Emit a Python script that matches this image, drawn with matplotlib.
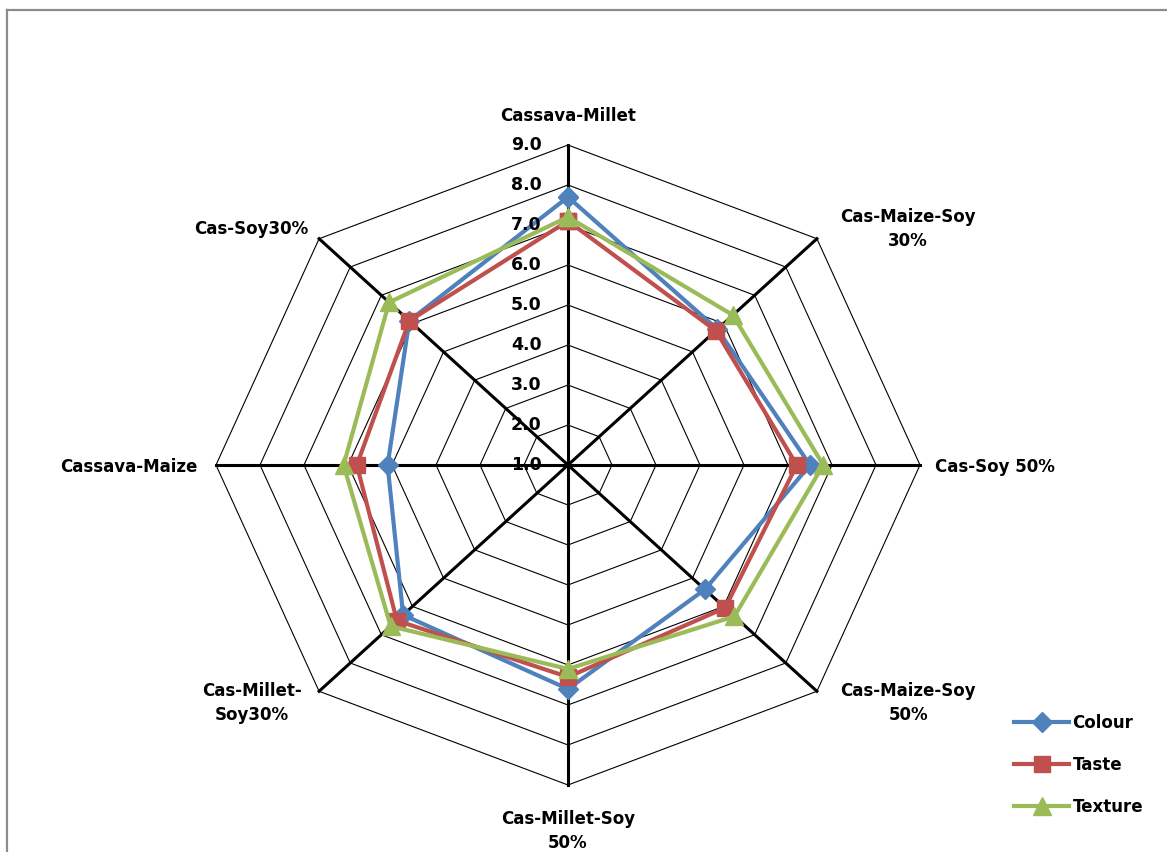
import matplotlib.pyplot as plt
import numpy as np
from matplotlib.lines import Line2D

# sensory scores per blend, spokes clockwise from the top
categories = ["Cassava-Millet", "Cas-Maize-Soy\n30%", "Cas-Soy 50%", "Cas-Maize-Soy\n50%",
              "Cas-Millet-Soy\n50%", "Cas-Millet-\nSoy30%", "Cassava-Maize", "Cas-Soy30%"]
colour = [7.7, 5.8, 6.5, 5.4, 6.6, 6.3, 5.1, 6.1]
taste = [7.1, 5.75, 6.2, 6.05, 6.3, 6.5, 5.8, 6.1]
texture = [7.2, 6.3, 6.8, 6.35, 6.1, 6.7, 6.1, 6.75]
ticks = [1.0, 2.0, 3.0, 4.0, 5.0, 6.0, 7.0, 8.0, 9.0]

FONT = "DejaVu Sans"
rmin = ticks[0]
n = len(categories)
theta = np.arange(n) * 2 * np.pi / n


def to_xy(values):
    r = np.asarray(values, dtype=float) - rmin
    x = r * np.sin(theta)
    y = r * np.cos(theta)
    return np.append(x, x[0]), np.append(y, y[0])


fig = plt.figure(figsize=(11.67, 8.52), dpi=100)
ax = fig.add_axes([0, 0, 1, 1])
ax.set_xlim(-568 / 44, 599 / 44)
ax.set_ylim(-387 / 40, 465 / 40)
ax.axis("off")

# octagon rings
for t in ticks[1:]:
    x, y = to_xy([t] * n)
    ax.plot(x, y, color="black", lw=0.8, zorder=1)

# spokes
rmax = ticks[-1] - rmin
for th in theta:
    ax.plot([0, rmax * np.sin(th)], [0, rmax * np.cos(th)], color="black", lw=2.2, zorder=2)

# scale labels along the top spoke
for t in ticks:
    ax.text(-0.6, t - rmin, "%.1f" % t, ha="right", va="center",
            fontsize=12.5, fontweight="bold", family=FONT, zorder=5)

series = [
    ("Colour", colour, "#4F81BD", "D", 10),
    ("Taste", taste, "#C0504D", "s", 11),
    ("Texture", texture, "#9BBB59", "^", 13),
]
for label, vals, c, m, ms in series:
    x, y = to_xy(vals)
    ax.plot(x, y, color=c, lw=3.0, marker=m, markersize=ms, label=label, zorder=4)

# category labels
label_pos = [
    (0, 8.72, "center", "center"),
    (7.73, 5.9, "center", "center"),
    (8.34, -0.05, "left", "center"),
    (7.73, -5.95, "center", "center"),
    (0, -8.62, "center", "top"),
    (-7.18, -5.95, "center", "center"),
    (-8.43, -0.05, "right", "center"),
    (-5.91, 5.9, "right", "center"),
]
for name, (x, y, ha, va) in zip(categories, label_pos):
    ax.text(x, y, name, ha=ha, va=va, fontsize=12, fontweight="bold",
            family=FONT, linespacing=1.45, multialignment="center")

ax.legend(loc="upper left", bbox_to_anchor=(0.862, 0.172), bbox_transform=fig.transFigure,
          frameon=False, prop={"family": FONT, "weight": "bold", "size": 12},
          handlelength=3.3, handletextpad=0.2, labelspacing=1.45, borderpad=0)

# chart area border (left and top edges only are in view)
fig.add_artist(Line2D([7 / 1167, 7 / 1167], [0, 1 - 10 / 852], color="#8c8c8c", lw=1.6,
                      transform=fig.transFigure))
fig.add_artist(Line2D([7 / 1167, 1], [1 - 10 / 852, 1 - 10 / 852], color="#8c8c8c", lw=1.6,
                      transform=fig.transFigure))

fig.savefig("out.png", dpi=100)
